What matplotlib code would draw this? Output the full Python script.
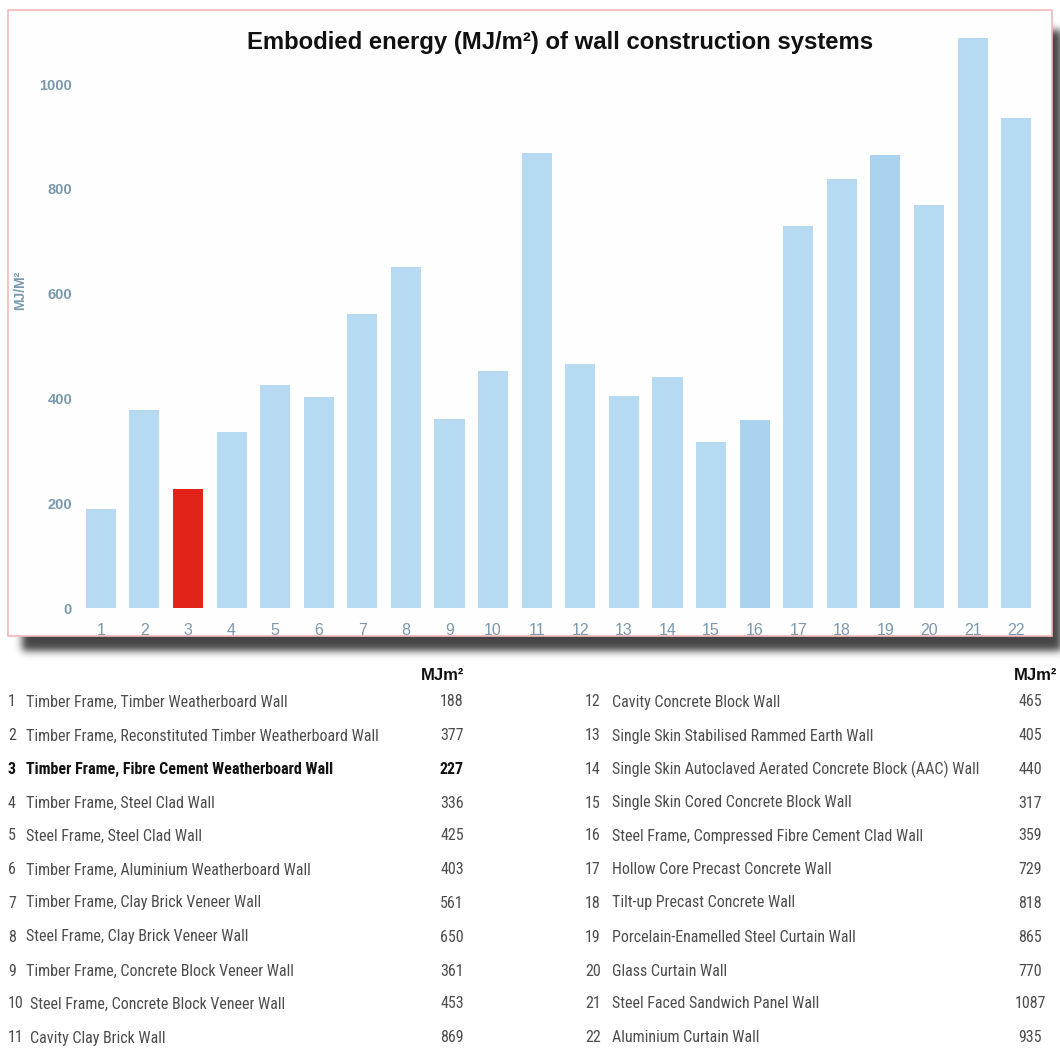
import numpy as np
import matplotlib
matplotlib.use("Agg")
import matplotlib.pyplot as plt
from matplotlib import font_manager
from matplotlib.patches import Rectangle
from math import erf

# ---------------- data ----------------
ids = list(range(1, 23))
values = [188, 377, 227, 336, 425, 403, 561, 650, 361, 453, 869,
          465, 405, 440, 317, 359, 729, 818, 865, 770, 1087, 935]
names = [
    "Timber Frame, Timber Weatherboard Wall",
    "Timber Frame, Reconstituted Timber Weatherboard Wall",
    "Timber Frame, Fibre Cement Weatherboard Wall",
    "Timber Frame, Steel Clad Wall",
    "Steel Frame, Steel Clad Wall",
    "Timber Frame, Aluminium Weatherboard Wall",
    "Timber Frame, Clay Brick Veneer Wall",
    "Steel Frame, Clay Brick Veneer Wall",
    "Timber Frame, Concrete Block Veneer Wall",
    "Steel Frame, Concrete Block Veneer Wall",
    "Cavity Clay Brick Wall",
    "Cavity Concrete Block Wall",
    "Single Skin Stabilised Rammed Earth Wall",
    "Single Skin Autoclaved Aerated Concrete Block (AAC) Wall",
    "Single Skin Cored Concrete Block Wall",
    "Steel Frame, Compressed Fibre Cement Clad Wall",
    "Hollow Core Precast Concrete Wall",
    "Tilt-up Precast Concrete Wall",
    "Porcelain-Enamelled Steel Curtain Wall",
    "Glass Curtain Wall",
    "Steel Faced Sandwich Panel Wall",
    "Aluminium Curtain Wall",
]
highlight = 3
yticks = [0, 200, 400, 600, 800, 1000]
title = "Embodied energy (MJ/m²) of wall construction systems"
ylabel = "MJ/M²"
unit_header = "MJm²"

# ---------------- fonts ----------------
def pick(fams):
    for f in fams:
        try:
            font_manager.findfont(font_manager.FontProperties(family=f), fallback_to_default=False)
            return f
        except Exception:
            continue
    return "DejaVu Sans"

SANS = pick(["Liberation Sans", "Arial", "DejaVu Sans"])
NARROW = pick(["Liberation Sans Narrow", "Roboto Condensed", "Open Sans Condensed", SANS])

W, H = 1060, 1063
DPI = 100
fig = plt.figure(figsize=(W / DPI, H / DPI), dpi=DPI)
fig.patch.set_facecolor("white")

def fx(px):
    return px / W

def fy(py):
    return 1 - py / H

# ---------------- background / shadow ----------------
bg = fig.add_axes([0, 0, 1, 1], zorder=0)
bg.set_xlim(0, W)
bg.set_ylim(H, 0)
bg.axis("off")
verf = np.vectorize(erf)
xs = np.arange(W) + 0.5
ys = np.arange(H) + 0.5
s = 5.5
px0, px1, py0, py1 = 22, 1062, 30, 651
prof_x = 0.5 * (verf((xs - px0) / s) - verf((xs - px1) / s))
prof_y = 0.5 * (verf((ys - py0) / s) - verf((ys - py1) / s))
alpha = 0.88 * np.outer(prof_y, prof_x)
img = np.zeros((H, W, 4))
img[..., 0] = 0.17
img[..., 1] = 0.17
img[..., 2] = 0.17
img[..., 3] = alpha
bg.imshow(img, extent=(0, W, H, 0), interpolation="bilinear", zorder=0)
bg.add_patch(Rectangle((8, 10), 1044, 626, facecolor="#fefefe",
                       edgecolor="#f2b9b9", linewidth=1.2, zorder=1))

# ---------------- bar chart ----------------
ax_l, ax_r = 79, 1038
ax_b = 608
ymax = 1100
pxu = 0.524
ax_t = ax_b - ymax * pxu
ax = fig.add_axes([fx(ax_l), fy(ax_b), (ax_r - ax_l) / W, (ax_b - ax_t) / H], zorder=2)
ax.patch.set_alpha(0)

colors = []
for i in ids:
    if i == highlight:
        colors.append("#e2231a")
    elif i in (16, 19):
        colors.append("#aad3ef")
    else:
        colors.append("#b6daf1")
ax.bar(ids, values, width=0.69, color=colors, linewidth=0)
ax.set_xlim(0.5, 22.5)
ax.set_ylim(0, ymax)
ax.set_xticks(ids)
ax.set_xticklabels([str(i) for i in ids])
ax.set_yticks(yticks)
ax.set_yticklabels([str(v) for v in yticks])
for sp in ax.spines.values():
    sp.set_visible(False)
tick_col = "#7b98ad"
ax.tick_params(axis="both", length=0, colors=tick_col)
ax.tick_params(axis="y", pad=5)
ax.tick_params(axis="x", pad=11)
for t in ax.get_yticklabels():
    t.set_fontfamily(SANS)
    t.set_fontweight("bold")
    t.set_fontsize(10.5)
for t in ax.get_xticklabels():
    t.set_fontfamily(SANS)
    t.set_fontsize(11.5)

fig.text(fx(560), fy(43), title, ha="center", va="center",
         fontsize=17.2, fontweight="bold", family=SANS, color="#111111")
fig.text(fx(20), fy(290), ylabel, ha="center", va="center", rotation=90,
         fontsize=10, fontweight="bold", family=SANS, color=tick_col)

# ---------------- table ----------------
row_y = [702, 736, 769, 803, 836, 870, 903, 937, 971, 1004, 1038]
txt_col = "#4d4d4d"
fsz = 11.5
fig.text(fx(443), fy(675), unit_header, ha="center", va="center",
         fontsize=12, fontweight="bold", family=SANS, color="#111111")
fig.text(fx(1057), fy(675), unit_header, ha="right", va="center",
         fontsize=12, fontweight="bold", family=SANS, color="#111111")

for k, (i, name, v) in enumerate(zip(ids, names, values)):
    col = 0 if k < 11 else 1
    y = fy(row_y[k % 11])
    bold = (i == highlight)
    w = "bold" if bold else "normal"
    c = "#111111" if bold else txt_col
    if col == 0:
        nx = 8
        tx = 26 if i < 10 else 30
        vx = 452
    else:
        nx = 585
        tx = 612
        vx = 1030
    fig.text(fx(nx), y, str(i), ha="left", va="center", fontsize=fsz,
             family=NARROW, fontweight=w, color=c)
    fig.text(fx(tx), y, name, ha="left", va="center", fontsize=fsz,
             family=NARROW, fontweight=w, color=c)
    fig.text(fx(vx), y, str(v), ha="center", va="center", fontsize=fsz,
             family=NARROW, fontweight=w, color=c)

fig.savefig("out.png", dpi=DPI, facecolor="white")
